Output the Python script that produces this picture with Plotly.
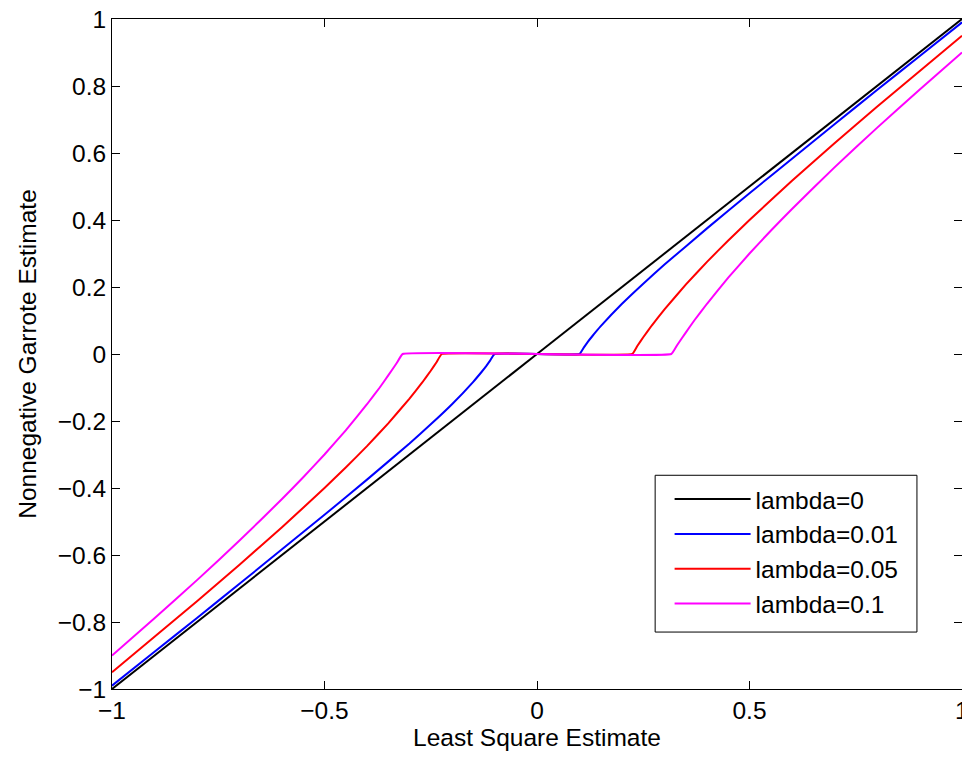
import plotly.graph_objects as go

# Values
x_l0 = [-1.0, 0.0, 1.0]
y_l0 = [-1.0, 0.0, 1.0]

x_l001 = [-1.0, -0.9, -0.8, -0.7, -0.6, -0.5, -0.4, -0.3, -0.25, -0.2, -0.15, -0.13, -0.12, -0.11, -0.1,
          0.1, 0.11, 0.12, 0.13, 0.15, 0.2, 0.25, 0.3, 0.4, 0.5, 0.6, 0.7, 0.8, 0.9, 1.0]
y_l001 = [-0.99, -0.889, -0.788, -0.686, -0.583, -0.48, -0.375, -0.267, -0.21, -0.15, -0.083, -0.053, -0.037, -0.019, 0.0,
          0.0, 0.019, 0.037, 0.053, 0.083, 0.15, 0.21, 0.267, 0.375, 0.48, 0.583, 0.686, 0.788, 0.889, 0.99]

x_l005 = [-1.0, -0.9, -0.8, -0.7, -0.6, -0.5, -0.45, -0.4, -0.35, -0.3, -0.27, -0.25, -0.236, -0.224,
          0.224, 0.236, 0.25, 0.27, 0.3, 0.35, 0.4, 0.45, 0.5, 0.6, 0.7, 0.8, 0.9, 1.0]
y_l005 = [-0.95, -0.844, -0.738, -0.629, -0.517, -0.4, -0.339, -0.275, -0.207, -0.133, -0.085, -0.05, -0.024, 0.0,
          0.0, 0.024, 0.05, 0.085, 0.133, 0.207, 0.275, 0.339, 0.4, 0.517, 0.629, 0.738, 0.844, 0.95]

x_l01 = [-1.0, -0.9, -0.8, -0.7, -0.6, -0.55, -0.5, -0.45, -0.4, -0.37, -0.35, -0.33, -0.316,
         0.316, 0.33, 0.35, 0.37, 0.4, 0.45, 0.5, 0.55, 0.6, 0.7, 0.8, 0.9, 1.0]
y_l01 = [-0.9, -0.789, -0.675, -0.557, -0.433, -0.368, -0.3, -0.228, -0.15, -0.1, -0.064, -0.027, 0.0,
         0.0, 0.027, 0.064, 0.1, 0.15, 0.228, 0.3, 0.368, 0.433, 0.557, 0.675, 0.789, 0.9]

series = [
    ("lambda=0", x_l0, y_l0, "#000000"),
    ("lambda=0.01", x_l001, y_l001, "#0000ff"),
    ("lambda=0.05", x_l005, y_l005, "#ff0000"),
    ("lambda=0.1", x_l01, y_l01, "#ff00ff"),
]

x_ticks = [-1, -0.5, 0, 0.5, 1]
x_ticklabels = ["\u22121", "\u22120.5", "0", "0.5", "1"]
y_ticks = [-1, -0.8, -0.6, -0.4, -0.2, 0, 0.2, 0.4, 0.6, 0.8, 1]
y_ticklabels = ["\u22121", "\u22120.8", "\u22120.6", "\u22120.4", "\u22120.2", "0", "0.2", "0.4", "0.6", "0.8", "1"]

FONT = "Liberation Sans, Arial, sans-serif"
FS = 24.5

fig = go.Figure()
for i, (name, xs, ys, col) in enumerate(series):
    fig.add_trace(go.Scatter(x=xs, y=ys, mode="lines", name=name,
                             line=dict(color=col, width=2, shape="spline", smoothing=0.3),
                             legendgroup=f"g{i}"))

axis_common = dict(showgrid=False, zeroline=False, showline=True, linecolor="black", linewidth=1,
                   mirror="ticks", ticks="inside", ticklen=8, tickcolor="black", tickwidth=1,
                   tickfont=dict(family=FONT, size=FS, color="black"))

# legend frame (paper coordinates)
fig.add_shape(type="rect", xref="paper", yref="paper",
              x0=0.639, x1=0.947, y0=0.085, y1=0.319,
              line=dict(color="black", width=1), fillcolor="white", layer="above")

# the rightmost x tick label sits on the page edge (cut off in the original)
fig.add_annotation(x=1, y=-1, xref="x", yref="y", text=x_ticklabels[-1], showarrow=False,
                   xanchor="center", yanchor="top", yshift=-6,
                   font=dict(family=FONT, size=FS, color="black"))

fig.update_layout(
    width=962, height=760,
    margin=dict(l=112, r=0, t=19, b=71),
    paper_bgcolor="white", plot_bgcolor="white",
    font=dict(family=FONT, size=FS, color="black"),
    showlegend=True,
    legend=dict(x=0.656, y=0.317, xanchor="left", yanchor="top",
                borderwidth=0, bgcolor="rgba(0,0,0,0)",
                font=dict(family=FONT, size=FS, color="black"),
                itemwidth=76, tracegroupgap=0, traceorder="grouped"),
    xaxis=dict(range=[-1, 1], tickvals=x_ticks, ticktext=x_ticklabels,
               title=dict(text="Least Square Estimate", standoff=3, font=dict(family=FONT, size=FS)),
               **axis_common),
    yaxis=dict(range=[-1, 1], tickvals=y_ticks, ticktext=y_ticklabels,
               title=dict(text="Nonnegative Garrote Estimate", standoff=14, font=dict(family=FONT, size=FS)),
               **axis_common),
)

fig.write_html("out.html")
